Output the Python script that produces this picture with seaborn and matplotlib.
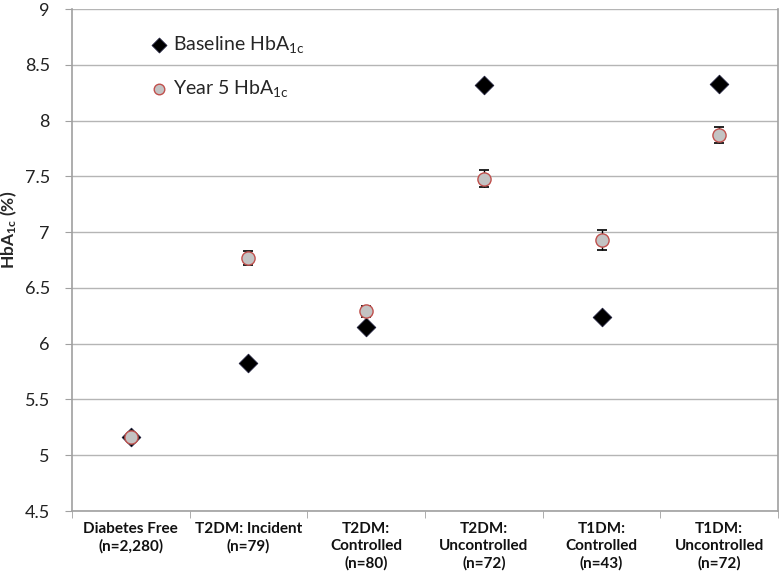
import matplotlib
matplotlib.use("Agg")
import matplotlib.pyplot as plt
import seaborn as sns
import pandas as pd
import numpy as np

categories = ["Diabetes Free\n(n=2,280)", "T2DM: Incident\n(n=79)", "T2DM:\nControlled\n(n=80)",
              "T2DM:\nUncontrolled\n(n=72)", "T1DM:\nControlled\n(n=43)", "T1DM:\nUncontrolled\n(n=72)"]
baseline = [5.16, 5.83, 6.15, 8.32, 6.24, 8.33]
year5 = [5.16, 6.77, 6.29, 7.48, 6.93, 7.87]
year5_err = [0.01, 0.065, 0.05, 0.08, 0.09, 0.07]
yticks = [4.5, 5, 5.5, 6, 6.5, 7, 7.5, 8, 8.5, 9]

sns.set_style("white")
plt.rcParams['font.family'] = ['Lato', 'DejaVu Sans']
plt.rcParams['mathtext.default'] = 'regular'

fig = plt.figure(figsize=(7.82, 5.77), dpi=100)
ax = fig.add_axes([72/782, 1-511/577, (778-72)/782, (511-9)/577])

df_b = pd.DataFrame({"cat": categories, "val": baseline})
df_y = pd.DataFrame({"cat": categories, "val": year5, "err": year5_err})

sns.stripplot(data=df_b, x="cat", y="val", order=categories, jitter=False, marker="D", s=9.5,
              color="black", edgecolor="#1f1f3a", linewidth=0.6, ax=ax, zorder=3,
              label="Baseline HbA$_{1c}$")
pos = np.arange(len(categories))
ax.errorbar(pos, df_y["val"], yerr=df_y["err"], fmt="none", ecolor="black", elinewidth=1,
            capsize=3.5, capthick=1.2, zorder=4)
sns.stripplot(data=df_y, x="cat", y="val", order=categories, jitter=False, marker="o", s=9.5,
              color="#c3c3c3", edgecolor="#c0504d", linewidth=1, ax=ax, zorder=5,
              label="Year 5 HbA$_{1c}$")

ax.set_ylim(4.5, 9)
ax.set_xlim(-0.5, len(categories) - 0.5)
ax.set_yticks(yticks)
ax.set_yticklabels([f"{t:g}" for t in yticks], fontsize=13, color="#222222")
ax.yaxis.grid(True, color="#b5b5b5", linewidth=1)
ax.set_axisbelow(True)
ax.set_xlabel("")
ax.set_ylabel("HbA$_{1c}$ (%)", fontsize=12.5, fontweight="bold")
ax.yaxis.set_label_coords(-0.075, 0.56)

ax.set_xticks(pos)
ax.set_xticklabels(categories, fontsize=11, fontweight="bold", color="#111111", linespacing=1.25)
ax.tick_params(axis="x", length=0, pad=8)
ax.set_xticks(np.arange(len(categories) + 1) - 0.5, minor=True)
ax.tick_params(axis="x", which="minor", length=5, color="#a0a0a0", direction="out", bottom=True)
ax.tick_params(axis="y", length=5, color="#a0a0a0", direction="out", left=True, pad=11)

for side in ["left", "bottom", "right"]:
    ax.spines[side].set_color("#a0a0a0")
    ax.spines[side].set_linewidth(1.2)
ax.spines["top"].set_visible(False)

handles, labels = ax.get_legend_handles_labels()
seen = {}
for h, l in zip(handles, labels):
    if l not in seen:
        seen[l] = h
leg = ax.legend(list(seen.values()), list(seen.keys()), loc="upper left",
                bbox_to_anchor=(0.085, 0.985), frameon=False, fontsize=14,
                labelspacing=1.2, handletextpad=0.2, handlelength=1.0, markerscale=0.8)

fig.savefig("out.png", dpi=100)
